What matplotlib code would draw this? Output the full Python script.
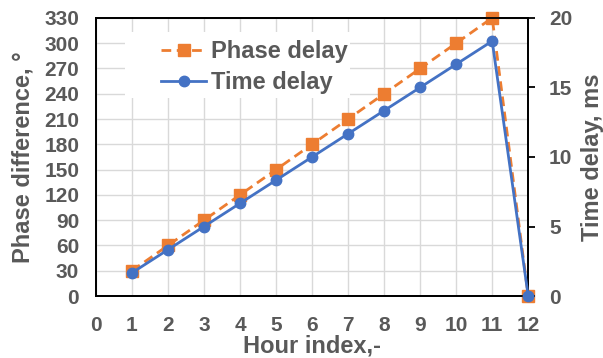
import matplotlib
matplotlib.use("Agg")
import matplotlib.pyplot as plt
from matplotlib.patches import Rectangle

hours = [1, 2, 3, 4, 5, 6, 7, 8, 9, 10, 11, 12]
phase_delay = [30, 60, 90, 120, 150, 180, 210, 240, 270, 300, 330, 0]
time_delay = [1.667, 3.333, 5.0, 6.667, 8.333, 10.0, 11.667, 13.333, 15.0, 16.667, 18.333, 0]
x_ticks = list(range(0, 13))
y1_ticks = list(range(0, 331, 30))
y2_ticks = [0, 5, 10, 15, 20]

plt.rcParams['font.family'] = ['Liberation Sans', 'DejaVu Sans']
plt.rcParams['font.weight'] = 'bold'
gray = '#595959'
orange = '#ED7D31'
blue = '#4472C4'

fig = plt.figure(figsize=(6.03, 3.58), dpi=100)
ax = fig.add_axes([0.159, 0.173, 0.717, 0.777])
ax2 = ax.twinx()

l1, = ax.plot(hours, phase_delay, color=orange, linestyle=(0, (3.5, 2)), linewidth=2,
              marker='s', markersize=9, clip_on=False, zorder=3, label='Phase delay')
l2, = ax2.plot(hours, time_delay, color=blue, linestyle='-', linewidth=2,
               marker='o', markersize=7.5, clip_on=False, zorder=3, label='Time delay')

ax.set_xlim(0, 12)
ax.set_ylim(0, 330)
ax2.set_ylim(0, 20)
ax.set_xticks(x_ticks)
ax.set_yticks(y1_ticks)
ax2.set_yticks(y2_ticks)
ax.grid(True, color='#D9D9D9', linewidth=1)
ax.set_axisbelow(True)

# white legend area (hides gridlines behind the legend, as in the reference)
ax.add_patch(Rectangle((0.207, 0.726), 0.373, 0.184, transform=fig.transFigure,
                       facecolor='white', edgecolor='none', zorder=1))

for s in ['left', 'right', 'top', 'bottom']:
    ax.spines[s].set_color('black')
    ax2.spines[s].set_color('black')
    ax.spines[s].set_linewidth(1.3)
    ax2.spines[s].set_linewidth(1.3)

ax.tick_params(axis='x', length=0, labelsize=15, labelcolor=gray, pad=14)
ax.tick_params(axis='y', length=0, labelsize=15, labelcolor=gray, pad=12)
ax2.tick_params(axis='y', length=5, width=1.3, labelsize=15, labelcolor=gray, pad=10)

ax.set_xlabel('Hour index,-', fontsize=17, color=gray, fontweight='bold', labelpad=0)
ax.set_ylabel('Phase difference, °', fontsize=17, color=gray, fontweight='bold', labelpad=7)
ax2.set_ylabel('Time delay, ms', fontsize=17, color=gray, fontweight='bold', labelpad=6)

leg = ax2.legend(handles=[l1, l2], loc='upper left', bbox_to_anchor=(0.252, 0.915),
                 bbox_transform=fig.transFigure, borderaxespad=0,
                 frameon=False,
                 fontsize=17, handlelength=1.9, handletextpad=0.2, labelspacing=0.35,
                 borderpad=0.4)
for t in leg.get_texts():
    t.set_color(gray)
    t.set_fontweight('bold')

fig.savefig('out.png', dpi=100)
